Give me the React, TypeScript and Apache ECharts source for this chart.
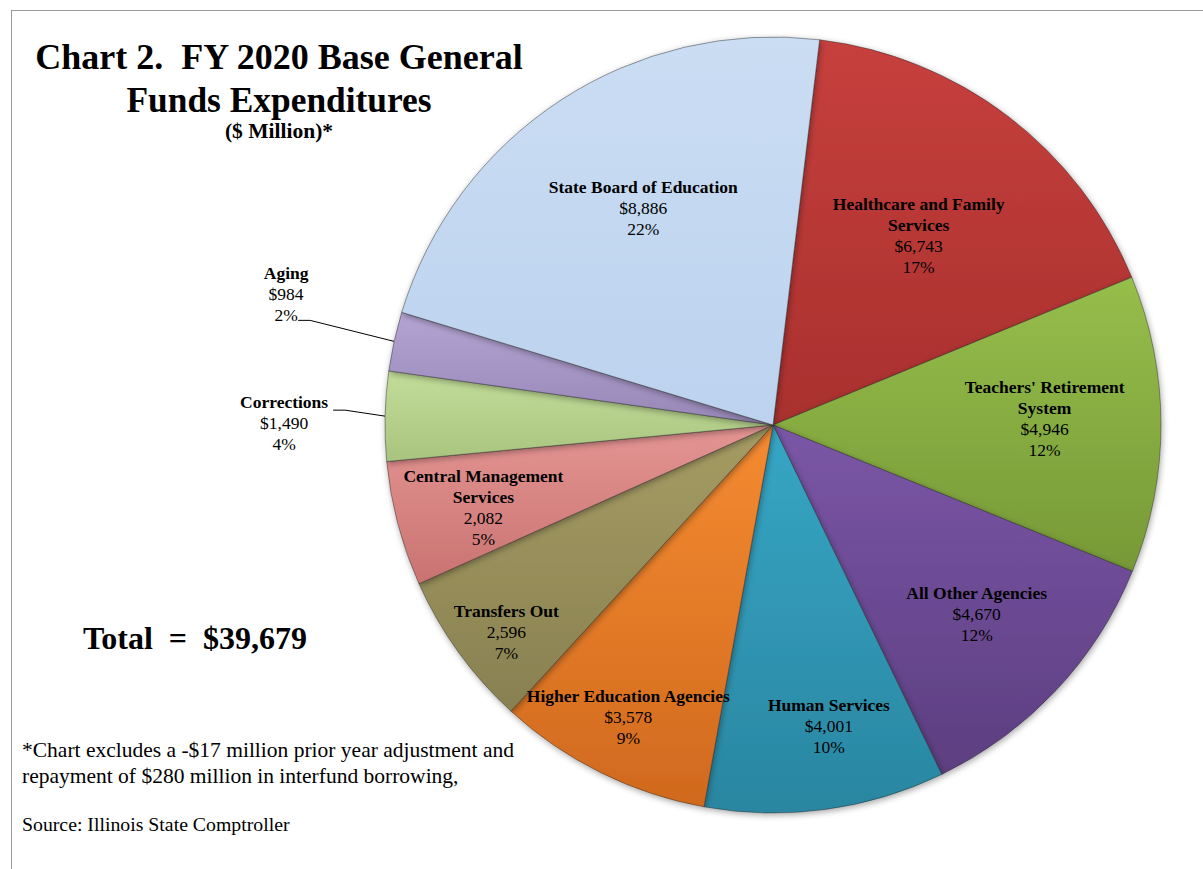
import React, { useEffect, useRef } from "react";
import * as echarts from "echarts";

// ---- data (clockwise from just right of 12 o'clock) ----
const categories = [
  "Healthcare and Family Services",
  "Teachers' Retirement System",
  "All Other Agencies",
  "Human Services",
  "Higher Education Agencies",
  "Transfers Out",
  "Central Management Services",
  "Corrections",
  "Aging",
  "State Board of Education",
];
const values = [6743, 4946, 4670, 4001, 3578, 2596, 2082, 1490, 984, 8886];
const valuePrefixes = ["$", "$", "$", "$", "$", "", "", "$", "$", "$"];
const TOTAL = 39679;

const titleLines = ["Chart 2.  FY 2020 Base General", "Funds Expenditures"];
const subtitle = "($ Million)*";
const totalText = "Total\u00a0\u00a0=\u00a0\u00a0$39,679";
const footnoteLines = [
  "*Chart excludes a -$17 million prior year adjustment and",
  "repayment of $280 million in interfund borrowing,",
];
const sourceText = "Source: Illinois State Comptroller";

// ---- styles ----
const FONT = '"Liberation Serif", "Times New Roman", serif';
const CX = 773;
const CY = 425;
const R = 388;
const START = 83.1;
const sliceColors: string[][] = [
  ["#C6403D", "#A9302E"],
  ["#96BE4B", "#779937"],
  ["#7B56A7", "#5C3E80"],
  ["#36A6C5", "#2A86A1"],
  ["#F58B31", "#D0691E"],
  ["#A59C64", "#888050"],
  ["#E49593", "#C97371"],
  ["#C2DD9A", "#A8C47E"],
  ["#B4A4D3", "#9787B7"],
  ["#CADDF3", "#BCD2EE"],
];
const nameBreaks: Record<string, string> = {
  "Healthcare and Family Services": "Healthcare and Family\nServices",
  "Teachers' Retirement System": "Teachers' Retirement\nSystem",
  "Central Management Services": "Central Management\nServices",
};
const labelRadius = [0.62, 0.7, 0.72, 0.78, 0.84, 0.87, 0.78, 0, 0, 0.65];
const labelShift: number[][] = [
  [0, 2], [0, -6], [0, -2], [15, 1], [0, 0], [7, 9], [3, 5], [0, 0], [0, 0], [8, -6],
];
const outsideLabels: Record<number, { text: number[]; knee: number[]; tail: number }> = {
  7: { text: [-101, 7], knee: [-40, -6], tail: 12 },
  8: { text: [-108, -47], knee: [-84, -21], tail: 12 },
};

export default function App() {
  const ref = useRef<HTMLDivElement>(null);
  useEffect(() => {
    if (!ref.current) return;
    const chart = echarts.init(ref.current, undefined, { renderer: "svg" });
    const sum = values.reduce((a, b) => a + b, 0);
    const midAngles: number[] = [];
    let acc = 0;
    values.forEach((v) => {
      midAngles.push(90 - START + ((acc + v / 2) / sum) * 360);
      acc += v;
    });

    const data = categories.map((name, i) => {
      const item: any = {
        name,
        value: values[i],
        itemStyle: {
          color: new echarts.graphic.LinearGradient(0, 0, 0, 1, [
            { offset: 0, color: sliceColors[i][0] },
            { offset: 1, color: sliceColors[i][1] },
          ]),
        },
      };
      if (outsideLabels[i]) {
        item.label = { position: "outside" };
        item.labelLine = { show: true, length: 10, length2: 10, lineStyle: { color: "#000", width: 1 } };
      }
      return item;
    });

    chart.setOption({
      animation: false,
      backgroundColor: "#fff",
      graphic: [
        { type: "line", shape: { x1: 11, y1: 10.5, x2: 1203, y2: 10.5 }, style: { stroke: "#9a9a9a", lineWidth: 1 } },
        { type: "line", shape: { x1: 11.5, y1: 10, x2: 11.5, y2: 869 }, style: { stroke: "#9a9a9a", lineWidth: 1 } },
        {
          type: "text", x: 279, y: 57,
          style: { text: titleLines[0], font: `bold 36px ${FONT}`, fill: "#000", textAlign: "center", textVerticalAlign: "middle" },
        },
        {
          type: "text", x: 279, y: 100,
          style: { text: titleLines[1], font: `bold 35.4px ${FONT}`, fill: "#000", textAlign: "center", textVerticalAlign: "middle" },
        },
        {
          type: "text", x: 279, y: 131,
          style: { text: subtitle, font: `bold 21.5px ${FONT}`, fill: "#000", textAlign: "center", textVerticalAlign: "middle" },
        },
        {
          type: "text", x: 195, y: 638,
          style: { text: totalText, font: `bold 32px ${FONT}`, fill: "#000", textAlign: "center", textVerticalAlign: "middle" },
        },
        {
          type: "text", x: 22, y: 750,
          style: { text: footnoteLines[0], font: `21.5px ${FONT}`, fill: "#000", textAlign: "left", textVerticalAlign: "middle" },
        },
        {
          type: "text", x: 22, y: 776,
          style: { text: footnoteLines[1], font: `21.5px ${FONT}`, fill: "#000", textAlign: "left", textVerticalAlign: "middle" },
        },
        {
          type: "text", x: 22, y: 824,
          style: { text: sourceText, font: `19.8px ${FONT}`, fill: "#000", textAlign: "left", textVerticalAlign: "middle" },
        },
      ],
      series: [
        {
          type: "pie",
          center: [CX, CY],
          radius: R,
          startAngle: START,
          clockwise: true,
          avoidLabelOverlap: false,
          itemStyle: {
            borderColor: "rgba(40,40,40,0.45)",
            borderWidth: 1,
            shadowBlur: 6,
            shadowColor: "rgba(0,0,0,0.35)",
            shadowOffsetX: 1,
            shadowOffsetY: 2,
          },
          label: {
            show: true,
            position: "inside",
            color: "#000",
            fontFamily: FONT,
            formatter: (p: any) => {
              const i = p.dataIndex;
              const nm = nameBreaks[p.name] || p.name;
              const pct = Math.round((values[i] / TOTAL) * 100);
              return `{n|${nm}}\n{v|${valuePrefixes[i]}${values[i].toLocaleString("en-US")}}\n{v|${pct}%}`;
            },
            rich: {
              n: { fontFamily: FONT, fontWeight: "bold", fontSize: 17.5, lineHeight: 21, color: "#000", align: "center" },
              v: { fontFamily: FONT, fontSize: 17.5, lineHeight: 21, color: "#000", align: "center" },
            },
          },
          labelLine: { show: false },
          labelLayout: (p: any) => {
            const i = p.dataIndex;
            const rad = (midAngles[i] * Math.PI) / 180;
            const ux = Math.sin(rad);
            const uy = -Math.cos(rad);
            const o = outsideLabels[i];
            if (o) {
              const ex = CX + R * ux;
              const ey = CY + R * uy;
              return {
                x: ex + o.text[0],
                y: ey + o.text[1],
                align: "center",
                verticalAlign: "middle",
                labelLinePoints: [
                  [ex, ey],
                  [ex + o.knee[0], ey + o.knee[1]],
                  [ex + o.knee[0] - o.tail, ey + o.knee[1]],
                ],
              };
            }
            const f = labelRadius[i];
            return {
              x: CX + f * R * ux + labelShift[i][0],
              y: CY + f * R * uy + labelShift[i][1],
              align: "center",
              verticalAlign: "middle",
            };
          },
          data,
        },
      ],
    });
    return () => chart.dispose();
  }, []);
  return (
    <div
      ref={ref}
      style={{ position: "fixed", left: 0, top: 0, width: 1203, height: 869, background: "#fff" }}
    />
  );
}
